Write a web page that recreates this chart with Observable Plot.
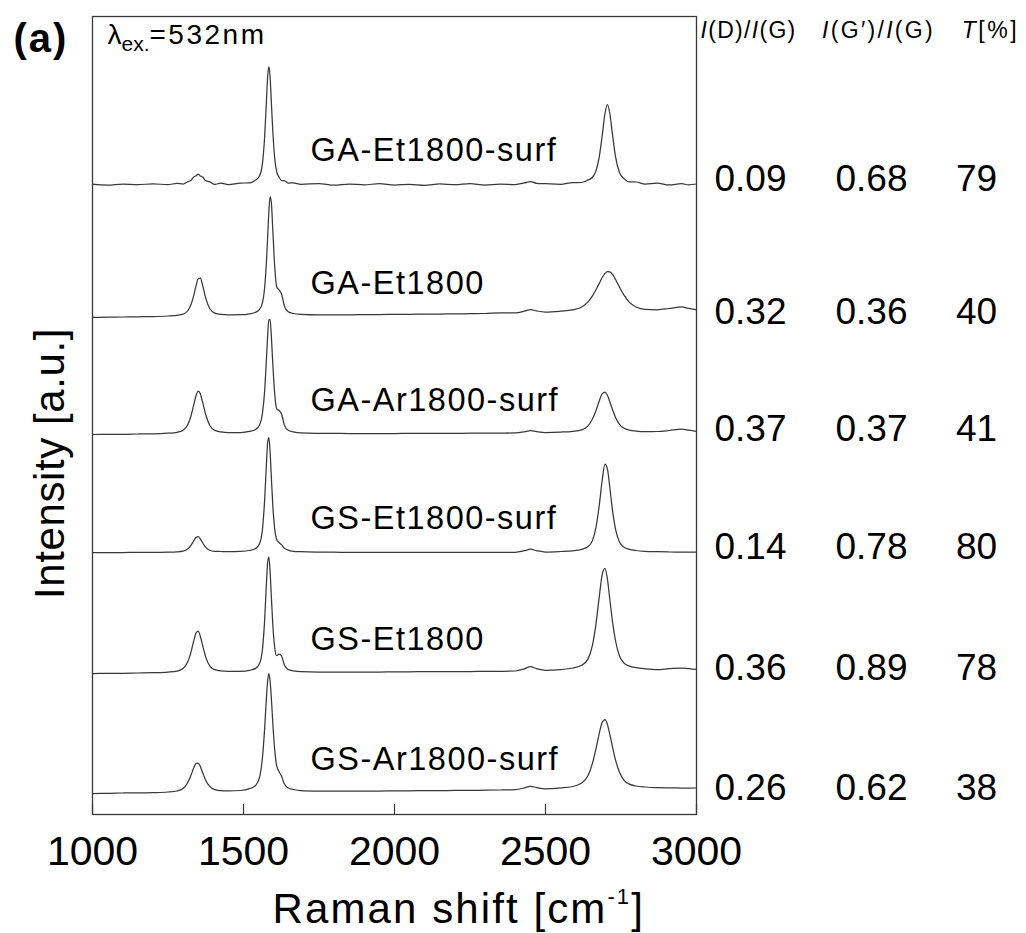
<!DOCTYPE html>
<html>
<head>
<meta charset="utf-8">
<script src="https://cdn.jsdelivr.net/npm/d3@7"></script>
<script src="https://cdn.jsdelivr.net/npm/@observablehq/plot@0.6"></script>
<style>
  html, body { margin: 0; padding: 0; background: #fff; }
  svg { display: block; }
</style>
</head>
<body>
<div id="chart"></div>
<script>
// ---------- data ----------
const shift = [1000,1050,1100,1150,1200,1250,
  1280,1300,1315,1325,1335,1343,1350,1357,1365,1375,1388,1405,1425,
  1450,1490,1520,1540,1553,
  1563,1570,1576,1580,1584,1588,1592,1597,1603,1610,1618,1626,1635,1648,1665,1690,
  1750,1800,1850,1900,1950,2000,2050,2100,2150,2200,2250,2300,2350,2400,
  2430,2450,2470,2500,2550,
  2590,2620,2640,2655,2667,2678,2688,2697,2705,2713,2722,2732,2745,2760,2778,2800,2830,
  2870,2910,2950,2975,3000];

const samples = ["GA-Et1800-surf","GA-Et1800","GA-Ar1800-surf","GS-Et1800-surf","GS-Et1800","GS-Ar1800-surf"];
// vertical stacking offset of each spectrum (a.u.)
const offsets = [630, 497, 380, 262, 141, 21];

const intGAEt1800surf = [0.3,-0.6,0.5,-0.2,0.7,-0.2,
  1.2,0.5,2.7,3.9,7.5,8.8,10.3,8.6,7.4,3.7,2.7,0.1,1.4,
  -0.1,1.4,1.6,4.4,8.5,
  21.6,47.8,83.8,108,118,108,83.8,53.5,27.4,12.7,7.2,4.0,3.8,1.5,1.6,0.1,
  1.0,-0.7,0.5,-0.3,0.8,-0.6,0.2,-0.8,0.6,-0.2,0.9,-0.5,0.4,0.0,
  1.6,3.0,1.2,0.8,0.2,
  1.9,2.0,4.4,7.0,13.6,27.6,49.6,71,80,71,49.6,27.6,12,5.9,2.6,2.5,0.4,
  1.3,-0.4,0.8,-0.3,0.5];
const intGAEt1800 = [0.1,0.3,0.5,0.7,0.9,1.5,
  2.2,3.4,6.5,11.9,21.7,31.8,38.8,39.3,31.9,19.4,9.0,4.3,3.1,
  2.7,2.8,3.7,5.3,8.2,
  14.9,29.7,56.1,80.7,105.9,120.9,115.7,87.7,52.7,30.6,27.5,23.5,11.8,5.7,4.0,3.2,
  2.7,2.7,2.7,2.9,3.0,3.1,3.2,3.4,3.5,3.7,3.8,4.0,4.6,4.6,
  6.3,8.0,6.6,5.4,6.3,
  7.6,10.5,15.4,21.4,27.8,34.1,40.2,44.2,46.0,45.7,43.1,38.0,30.4,22.3,15.1,10.5,8.1,
  7.7,9.0,10.6,9.1,7.7];
const intGAAr1800surf = [0,0.1,0.1,0.5,0.6,1.3,
  2.2,4.3,9.5,17.5,29.3,39.0,43.4,40.8,31.8,19.7,9.2,4.1,2.6,
  2.0,2.0,3.1,5.1,9.5,
  21.7,43.5,75.7,99.0,114.8,114.9,99.4,70.8,42.1,25.4,23.9,20.4,9.9,4.2,2.7,1.6,
  1.2,1.1,1.0,1.0,1.0,1.0,1.1,1.1,1.2,1.2,1.3,1.3,1.4,1.6,
  2.7,3.8,2.9,2.0,2.4,
  3.2,4.7,8.4,15.2,23.8,33.5,40.9,42.5,39.2,32.7,24.7,17.1,10.2,6.2,4.3,3.4,2.8,
  3.0,4.0,5.3,4.3,3.1];
const intGSEt1800surf = [0,0,0,0.1,0.1,0.3,
  0.6,1.3,3.4,6.7,11.5,15.2,15.8,13.6,9.5,5.1,2.3,1.2,1.0,
  0.8,1.1,2.0,4.0,8.8,
  23.8,52.5,89,110,115,101,76.6,47.3,24.4,13.0,9.8,7.8,4.4,2.3,1.2,0.8,
  0.4,0.3,0.2,0.2,0.2,0.2,0.2,0.2,0.2,0.2,0.2,0.2,0.2,0.2,
  1.8,3.3,1.9,0.5,1.0,
  1.7,3.2,5.7,11.6,24.9,47.2,73,88.4,83.7,65,41.8,23.1,10.5,5.3,3.2,2.0,1.2,
  0.8,0.5,0.4,0.3,0.3];
const intGSEt1800 = [0,0.1,0.2,0.5,0.8,1.4,
  2.4,4.9,11.4,20.2,32.4,40.6,42.3,37.3,27.7,16.4,7.7,3.8,2.6,
  2.2,2.1,3.2,5.1,9.9,
  24.8,53.4,90.2,111.3,116.4,102.5,78.2,49,26.8,17.8,19.5,17.5,8.8,4.0,2.6,1.8,
  1.5,1.5,1.4,1.4,1.5,1.6,1.7,1.8,1.9,1.9,2.0,2.1,2.2,2.5,
  4.6,6.8,4.9,3.2,3.9,
  5.5,8.2,14.1,27.7,49.2,76.7,99.3,105.1,94.3,74.2,51.6,32.5,17.5,10.4,7.4,5.8,4.7,
  3.9,4.8,5.5,4.8,4.1];
const intGSAr1800surf = [0,0.1,0.5,0.6,0.9,1.5,
  2.5,4.9,10.7,17.3,25.4,30.2,30.5,27.0,20.7,13.1,7.2,3.9,2.9,
  2.7,3.0,4.8,8.0,16.0,
  36.6,65.1,96.0,112.7,119.8,112.8,96.4,70.7,44.9,27.6,21.8,17.2,9.7,5.5,4.0,2.9,
  2.4,2.3,2.3,2.4,2.5,2.6,2.7,2.8,2.9,3.1,3.2,3.3,3.5,3.9,
  5.6,7.2,5.9,4.7,5.6,
  7.0,10.4,17.4,29.7,44.6,60.2,71.4,73.9,69.1,58.9,46.3,33.3,21.2,13.2,9.4,7.5,6.5,
  5.8,5.6,5.5,5.4,5.5];

const ratioDG = [0.09, 0.32, 0.37, 0.14, 0.36, 0.26];
const ratioG2G = [0.68, 0.36, 0.37, 0.78, 0.89, 0.62];
const transmittance = [79, 40, 41, 80, 78, 38];

const xTicks = [1000, 1500, 2000, 2500, 3000];
const columnHeaders = ["I(D)/I(G)", "I(G′)/I(G)", "T[%]"];
const panelTag = "(a)";
const laserNote = "λex.=532nm";
const xTitle = "Raman shift [cm-1]";
const yTitle = "Intensity [a.u.]";

// ---------- build tables ----------
const spectra = [intGAEt1800surf, intGAEt1800, intGAAr1800surf, intGSEt1800surf, intGSEt1800, intGSAr1800surf];
const points = spectra.flatMap((arr, i) =>
  arr.map((v, j) => ({sample: samples[i], shift: shift[j], y: offsets[i] + v})));
const rows = samples.map((name, i) => ({
  name, offset: offsets[i], dg: ratioDG[i], g2g: ratioG2G[i], t: transmittance[i]
}));

const font = "'Liberation Sans', Arial, Helvetica, sans-serif";
const ink = "#383838";

const chart = Plot.plot({
  width: 1026,
  height: 933,
  marginLeft: 92,
  marginRight: 330,
  marginTop: 16,
  marginBottom: 119,
  style: {fontFamily: font, background: "#fff", color: "#000", overflow: "visible"},
  x: {domain: [1000, 3000], axis: null},
  y: {domain: [0, 798], axis: null},
  marks: [
    Plot.line(points, {x: "shift", y: "y", z: "sample", stroke: ink, strokeWidth: 1.25, curve: "monotone-x"}),
    Plot.frame({stroke: ink, strokeWidth: 1.3}),
    Plot.ruleX(xTicks, {x: d => d, insetTop: 788, stroke: ink, strokeWidth: 1.2}),
    Plot.axisX(xTicks, {tickSize: 0, tickPadding: 21, fontSize: 41, tickFormat: d => String(d), fill: "#000", label: null}),
    // spectrum names
    Plot.text(rows, {y: "offset", text: "name", frameAnchor: "left", dx: 218, dy: -24,
      textAnchor: "start", lineAnchor: "bottom", fontSize: 32.5, fill: "#000"}),
    // table values
    Plot.text(rows, {y: "offset", text: d => d.dg.toFixed(2), frameAnchor: "right", dx: 54, dy: 6,
      textAnchor: "middle", lineAnchor: "bottom", fontSize: 37, fill: "#000"}),
    Plot.text(rows, {y: "offset", text: d => d.g2g.toFixed(2), frameAnchor: "right", dx: 175, dy: 6,
      textAnchor: "middle", lineAnchor: "bottom", fontSize: 37, fill: "#000"}),
    Plot.text(rows, {y: "offset", text: d => String(d.t), frameAnchor: "right", dx: 280, dy: 6,
      textAnchor: "middle", lineAnchor: "bottom", fontSize: 37, fill: "#000"}),
    // headers
    Plot.text([columnHeaders[0]], {text: d => d, frameAnchor: "top-right", dx: 52, dy: 21,
      textAnchor: "middle", lineAnchor: "bottom", fontSize: 23, fill: "#000"}),
    Plot.text([columnHeaders[1]], {text: d => d, frameAnchor: "top-right", dx: 182, dy: 21,
      textAnchor: "middle", lineAnchor: "bottom", fontSize: 23, fill: "#000"}),
    Plot.text([columnHeaders[2]], {text: d => d, frameAnchor: "top-right", dx: 294, dy: 21,
      textAnchor: "middle", lineAnchor: "bottom", fontSize: 23, fill: "#000"}),
    // panel tag and laser note
    Plot.text([panelTag], {text: d => d, frameAnchor: "top-left", dx: -79, dy: 35,
      textAnchor: "start", lineAnchor: "bottom", fontSize: 40, fontWeight: "bold", fill: "#000"}),
    Plot.text([laserNote], {text: d => d, frameAnchor: "top-left", dx: 15, dy: 27,
      textAnchor: "start", lineAnchor: "bottom", fontSize: 28, fill: "#000"}),
    // axis titles
    Plot.text([xTitle], {text: d => d, frameAnchor: "bottom-left", dx: 180, dy: 108,
      textAnchor: "start", lineAnchor: "bottom", fontSize: 42, fill: "#000"}),
    Plot.text([yTitle], {text: d => d, frameAnchor: "left", rotate: -90, dx: -29, dy: 48,
      textAnchor: "middle", lineAnchor: "bottom", fontSize: 42, fill: "#000"})
  ]
});

document.getElementById("chart").appendChild(chart);

// ---------- typographic touches (italic, sub/superscripts, spacing) ----------
const S = d3.select(chart);
function textsWith(pred) {
  return S.selectAll("text").filter(function () { return pred(this.textContent); });
}
function richText(str, splitter) {
  textsWith(c => c === str).each(function () {
    const t = d3.select(this);
    const parts = splitter(str);
    t.text(null);
    for (const p of parts) {
      const s = t.append("tspan").text(p.t);
      if (p.italic) s.attr("font-style", "italic");
      if (p.size) s.attr("font-size", p.size);
      if (p.dy) s.attr("dy", p.dy);
      if (p.ls != null) s.attr("letter-spacing", p.ls);
    }
  });
}
// spacing tweaks (set before restructuring the text nodes)
textsWith(c => samples.includes(c)).attr("letter-spacing", 1.5);
textsWith(c => c === columnHeaders[0]).attr("letter-spacing", 1.3);
textsWith(c => c === columnHeaders[1]).attr("letter-spacing", 2.3);
textsWith(c => c === columnHeaders[2]).attr("letter-spacing", 2.6);
textsWith(c => c === xTitle).attr("letter-spacing", 2.1);
textsWith(c => c === yTitle).attr("letter-spacing", 0.6);
textsWith(c => c === panelTag).attr("letter-spacing", 2);

// headers: italic I and T
columnHeaders.forEach(h =>
  richText(h, s => Array.from(s).map(c => ({t: c, italic: c === "I" || c === "T"}))));

// x title with superscript
richText(xTitle, s => {
  const i = s.indexOf("-1");
  return [{t: s.slice(0, i)}, {t: "-1", size: 22, dy: -19}, {t: s.slice(i + 2), dy: 19}];
});

// laser note with subscript
richText(laserNote, s => {
  const i = s.indexOf("ex.");
  return [{t: s.slice(0, i)}, {t: "ex.", size: 21, dy: 7, ls: 0}, {t: s.slice(i + 3), dy: -7, ls: 2.5}];
});
</script>
</body>
</html>
